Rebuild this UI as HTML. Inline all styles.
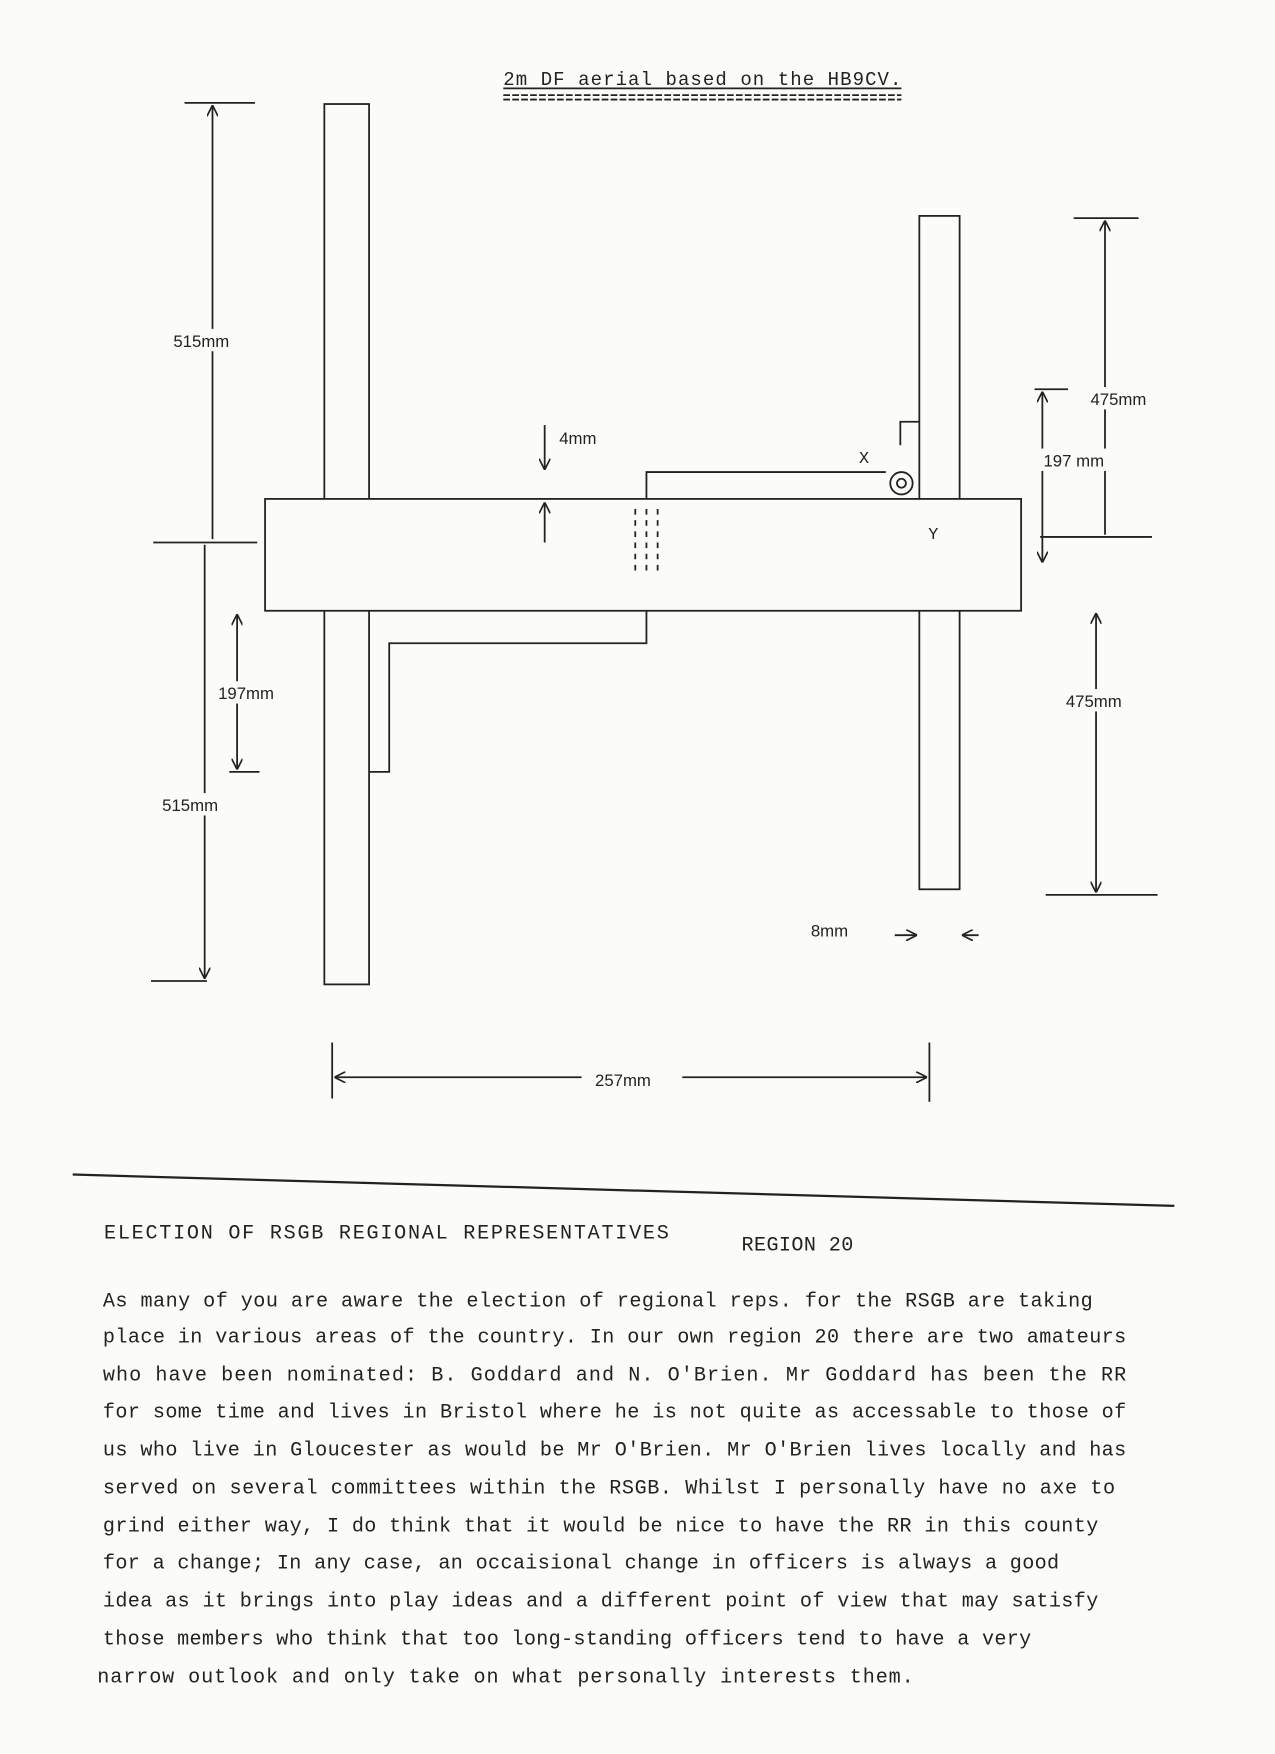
<!DOCTYPE html>
<html><head><meta charset="utf-8"><style>
html,body{margin:0;padding:0;background:#fbfbf8;}
svg{display:block}
text{font-family:"Liberation Mono",monospace;fill:#222}
.s{font-family:"Liberation Sans",sans-serif;font-size:15px}
</style></head><body>
<svg width="1275" height="1754" viewBox="0 0 1140 1568" preserveAspectRatio="none" xmlns="http://www.w3.org/2000/svg">
<defs>
<marker id="a" viewBox="0 0 10 10" refX="10" refY="5" markerWidth="10" markerHeight="10" orient="auto-start-reverse" markerUnits="userSpaceOnUse"><path d="M0,0 L10,5 L0,10" fill="none" stroke="#222" stroke-width="1.5"/></marker>
</defs>
<rect width="1140" height="1568" fill="#fbfbf8"/>
<g stroke="#222" stroke-width="1.6" fill="none">
<line x1="450" y1="79" x2="806" y2="79"/><line x1="450" y1="85" x2="806" y2="85" stroke-dasharray="6,2"/><line x1="450" y1="89" x2="806" y2="89" stroke-dasharray="6,2"/>
<rect x="290" y="93" width="40" height="787" fill="#fbfbf8"/>
<rect x="822" y="193" width="36" height="602" fill="#fbfbf8"/>
<rect x="237" y="446" width="676" height="100" fill="#fbfbf8"/>
<line x1="568" y1="455" x2="568" y2="512" stroke-dasharray="5,5"/>
<line x1="578" y1="455" x2="578" y2="512" stroke-dasharray="5,5"/>
<line x1="588" y1="455" x2="588" y2="512" stroke-dasharray="5,5"/>
<polyline points="578,446 578,422 792,422"/>
<polyline points="578,546 578,575 348,575 348,690 330,690"/>
<polyline points="805,398 805,377 822,377"/>
<circle cx="806" cy="432" r="10"/><circle cx="806" cy="432" r="4"/>
<line x1="165" y1="92" x2="228" y2="92"/>
<line x1="190" y1="94" x2="190" y2="482" marker-start="url(#a)"/>
<line x1="137" y1="485" x2="230" y2="485"/>
<line x1="183" y1="487" x2="183" y2="875" marker-end="url(#a)"/>
<line x1="135" y1="877" x2="185" y2="877"/>
<line x1="212" y1="549" x2="212" y2="688" marker-start="url(#a)" marker-end="url(#a)"/>
<line x1="205" y1="690" x2="232" y2="690"/>
<line x1="487" y1="380" x2="487" y2="420" marker-end="url(#a)"/>
<line x1="487" y1="485" x2="487" y2="449" marker-end="url(#a)"/>
<line x1="960" y1="195" x2="1018" y2="195"/>
<line x1="988" y1="197" x2="988" y2="478" marker-start="url(#a)"/>
<line x1="925" y1="348" x2="955" y2="348"/>
<line x1="932" y1="350" x2="932" y2="503" marker-start="url(#a)" marker-end="url(#a)"/>
<line x1="930" y1="480" x2="1030" y2="480"/>
<line x1="980" y1="548" x2="980" y2="798" marker-start="url(#a)" marker-end="url(#a)"/>
<line x1="935" y1="800" x2="1035" y2="800"/>
<line x1="800" y1="836" x2="820" y2="836" marker-end="url(#a)"/>
<line x1="875" y1="836" x2="860" y2="836" marker-end="url(#a)"/>
<line x1="297" y1="932" x2="297" y2="982"/>
<line x1="831" y1="932" x2="831" y2="985"/>
<line x1="299" y1="963" x2="520" y2="963" marker-start="url(#a)"/>
<line x1="610" y1="963" x2="829" y2="963" marker-end="url(#a)"/>
<line x1="65" y1="1050" x2="1050" y2="1078" stroke-width="2"/>
</g>
<g fill="#fbfbf8">
<rect x="153" y="294" width="60" height="20"/>
<rect x="143" y="709" width="60" height="20"/>
<rect x="193" y="609" width="60" height="20"/>
<rect x="973" y="346" width="60" height="20"/>
<rect x="931" y="401" width="62" height="20"/>
<rect x="951" y="616" width="60" height="20"/>
</g>
<text x="450" y="76" font-size="17" textLength="356">2m DF aerial based on the HB9CV.</text>
<text class="s" x="155" y="310">515mm</text>
<text class="s" x="145" y="725">515mm</text>
<text class="s" x="195" y="625">197mm</text>
<text class="s" x="500" y="397">4mm</text>
<text class="s" x="975" y="362">475mm</text>
<text class="s" x="933" y="417">197 mm</text>
<text class="s" x="953" y="632">475mm</text>
<text class="s" x="725" y="837">8mm</text>
<text class="s" x="532" y="971">257mm</text>
<text x="768" y="414" font-size="15">X</text>
<text x="830" y="482" font-size="15">Y</text>
<g font-size="18">
<text x="93" y="1107" textLength="505">ELECTION OF RSGB REGIONAL REPRESENTATIVES</text>
<text x="663" y="1118" textLength="100">REGION 20</text>
<text x="92" y="1168" textLength="885">As many of you are aware the election of regional reps. for the RSGB are taking</text>
<text x="92" y="1200" textLength="915">place in various areas of the country. In our own region 20 there are two amateurs</text>
<text x="92" y="1234" textLength="915">who have been nominated:  B. Goddard and N. O'Brien.  Mr Goddard has been the RR</text>
<text x="92" y="1267" textLength="915">for some time and lives in Bristol where he is not quite as accessable to those of</text>
<text x="92" y="1301" textLength="915">us who live in Gloucester as would be Mr O'Brien. Mr O'Brien lives locally and has</text>
<text x="92" y="1335" textLength="905">served on several committees within the RSGB.  Whilst I personally have no axe to</text>
<text x="92" y="1369" textLength="890">grind either way, I do think that it would be nice to have the RR in this county</text>
<text x="92" y="1402" textLength="855">for a change; In any case, an occaisional change in officers is always a good</text>
<text x="92" y="1436" textLength="890">idea as it brings into play ideas and a different point of view that may satisfy</text>
<text x="92" y="1470" textLength="830">those members who think that too long-standing officers tend to have a very</text>
<text x="87" y="1504" textLength="730">narrow outlook and only take on what personally interests them.</text>
</g>
</svg>
</body></html>
